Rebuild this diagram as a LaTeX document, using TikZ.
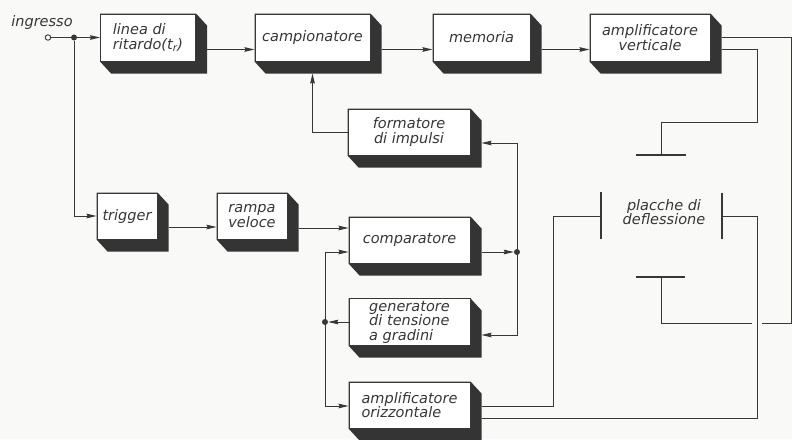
\documentclass[tikz,border=0pt]{standalone}
\usepackage{fontspec}
\setmainfont{DejaVu Sans}
\usetikzlibrary{calc,arrows.meta}
\pgfdeclarelayer{bg}
\pgfsetlayers{bg,main}

\definecolor{ink}{RGB}{55,55,55}
\definecolor{shadowgrey}{RGB}{52,52,52}
\definecolor{paper}{RGB}{249,249,247}

\tikzset{
  lettering/.style={font=\fontsize{14.5}{14.5}\selectfont\itshape, text=ink},
  blk/.style={draw=ink, line width=1pt, fill=white, inner sep=2pt, lettering},
  wire/.style={draw=ink, line width=0.9pt},
  tip/.tip={Stealth[length=10pt,width=4.6pt,inset=1pt]},
  arr/.style={wire, -tip},
  plate/.style={draw=ink, line width=2.8pt},
  junc/.style={circle, fill=ink, inner sep=0pt, minimum size=6pt},
  port/.style={circle, draw=ink, line width=0.9pt, fill=white, inner sep=0pt, minimum size=5.5pt},
}

% extruded shadow behind a block (offset 11 right, 12 down)
\newcommand\blockshadow[1]{%
  \fill[shadowgrey] (#1.north west) -- (#1.north east) -- ($(#1.north east)+(11,12)$)
    -- ($(#1.south east)+(11,12)$) -- ($(#1.south west)+(11,12)$) -- (#1.south west) -- cycle;}

\begin{document}
\begin{tikzpicture}[x=1pt, y=-1pt]
\useasboundingbox (0,0) rectangle (792,439);

% ---- blocks ----
\node[blk, minimum width=95pt,  minimum height=47pt, align=left] (lin) at (148,37.5) {linea di\\ritardo(t\textsubscript{r})};
\node[blk, minimum width=115pt, minimum height=47pt] (camp) at (312.5,37.5) {campionatore};
\node[blk, minimum width=97pt,  minimum height=47pt] (mem)  at (481.5,37.5) {memoria};
\node[blk, minimum width=120pt, minimum height=47pt, align=center] (av) at (650,37.5) {amplificatore\\verticale};
\node[blk, minimum width=122pt, minimum height=46pt, align=center] (form) at (409,132) {formatore\\di impulsi};
\node[blk, minimum width=60pt,  minimum height=46pt] (trig) at (127,216) {trigger};
\node[blk, minimum width=70pt,  minimum height=46pt, align=center] (ramp) at (252,216) {rampa\\veloce};
\node[blk, minimum width=121pt, minimum height=46pt] (comp) at (409.5,240) {comparatore};
\node[blk, minimum width=121pt, minimum height=46pt, align=left] (gen) at (409.5,322) {generatore\\di tensione\\a gradini};
\node[blk, minimum width=121pt, minimum height=46pt, align=left] (ao) at (409.5,405) {amplificatore\\orizzontale};

\begin{pgfonlayer}{bg}
  \fill[paper] (0,0) rectangle (792,439);
  \foreach \b in {lin,camp,mem,av,form,trig,ramp,comp,gen,ao} {\blockshadow{\b}}
\end{pgfonlayer}

% ---- input ----
\node[lettering] (inlbl) at (42,22) {ingresso};
\node[port] (in) at (48,37.5) {};
\node[junc] (j1) at (74,37.5) {};
\draw[wire] (in) -- (j1);
\draw[arr] (j1) -- (lin.west);
\draw[arr] (j1) |- (trig.west);

% ---- top chain ----
\coordinate (lin-o)  at ($(lin.east)+(11,12)$);
\coordinate (camp-o) at ($(camp.east)+(11,12)$);
\coordinate (mem-o)  at ($(mem.east)+(11,12)$);
\draw[arr] (lin-o)  -- (lin-o -| camp.west);
\draw[arr] (camp-o) -- (camp-o -| mem.west);
\draw[arr] (mem-o)  -- (mem-o -| av.west);

% pulse shaper back to the sampler
\draw[arr] (form.west) -| ($(camp.south)+(0,12)$);

% ---- ramp chain ----
\coordinate (trig-o) at ($(trig.east)+(11,11)$);
\coordinate (ramp-o) at ($(ramp.east)+(11,12)$);
\draw[arr] (trig-o) -- (trig-o -| ramp.west);
\draw[arr] (ramp-o) -- (ramp-o -| comp.west);

% comparator output and right-hand bus
\node[junc] (j2) at (517,252) {};
\draw[arr] ($(comp.east)+(11,12)$) -- (j2);
\coordinate (form-i) at ($(form.east)+(11,11)$);
\coordinate (gen-i)  at ($(gen.east)+(11,13)$);
\draw[wire, tip-tip] (form-i) -- (form-i -| j2) -- (gen-i -| j2) -- (gen-i);

% staircase generator and left-hand bus
\node[junc] (j3) at (325,322) {};
\draw[arr] (gen.west) -- (j3);
\coordinate (comp-i) at ($(comp.west)+(0,12)$);
\coordinate (ao-i)   at ($(ao.west)+(0,1)$);
\draw[wire, tip-tip] (comp-i) -- (comp-i -| j3) -- (ao-i -| j3) -- (ao-i);

% ---- deflection plates ----
\node[lettering, align=center] (pl) at (664,212) {placche di\\deflessione};
\coordinate (pT) at (661,155);
\coordinate (pB) at (661,277);
\coordinate (pL) at (601,216);
\coordinate (pR) at (722,216);
\draw[plate] ($(pT)+(-25,0)$) -- ($(pT)+(25,0)$);
\draw[plate] ($(pB)+(-25,0)$) -- ($(pB)+(24,0)$);
\draw[plate] ($(pL)+(0,-24)$) -- ($(pL)+(0,23)$);
\draw[plate] ($(pR)+(0,-23)$) -- ($(pR)+(0,23)$);

\coordinate (xL) at (553,0);
\coordinate (xR) at (757,0);
\coordinate (xE) at (791,0);
\coordinate (yT) at (0,122);
\coordinate (yB) at (0,323);

% vertical amplifier to the vertical plates
\coordinate (av-o1) at ($(av.east)+(11,0)$);
\coordinate (av-o2) at ($(av.east)+(11,12)$);
\draw[wire] (av-o2) -| (xR |- yT) -| (pT);
\draw[wire] (av-o1) -| (xE |- yB) -- ($(xR |- yB)+(5,0)$);
\draw[wire] ($(xR |- yB)+(-5,0)$) -| (pB);

% horizontal amplifier to the horizontal plates
\coordinate (ao-o1) at ($(ao.east)+(11,1)$);
\coordinate (ao-o2) at ($(ao.east)+(11,13)$);
\draw[wire] (ao-o1) -| (xL |- pL) -- (pL);
\draw[wire] (ao-o2) -| (xR |- pR) -- (pR);
\end{tikzpicture}
\end{document}
